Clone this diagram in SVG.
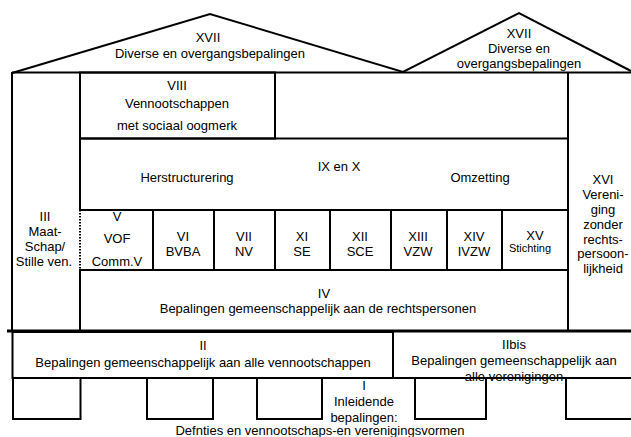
<svg xmlns="http://www.w3.org/2000/svg" width="631" height="437" viewBox="0 0 631 437">
<style>
.l{fill:none;stroke:#000;stroke-width:2}
.t{font-family:"Liberation Sans",Arial,sans-serif;font-size:13px;fill:#000;text-anchor:middle}
.s{font-size:11px}
</style>
<rect width="631" height="437" fill="#fff"/>
<g id="roof">
<polyline class="l" points="12,73 210,14 403,72 519,13 631,71"/>
<line class="l" x1="12" y1="72.5" x2="631" y2="72.5"/>
<text class="t" x="208" y="42">XVII</text>
<text class="t" x="210" y="58">Diverse en overgangsbepalingen</text>
<text class="t" x="519" y="38">XVII</text>
<text class="t" x="519" y="53">Diverse en</text>
<text class="t" x="519" y="68">overgangsbepalingen</text>
</g>
<g id="walls">
<line class="l" x1="12" y1="72" x2="12" y2="331"/>
<line class="l" x1="568" y1="72" x2="568" y2="331"/>
<line x1="7" y1="331" x2="631" y2="331" stroke="#000" stroke-width="3"/>
</g>
<g id="n3">
<text class="t" x="45" y="220.5">III</text>
<text class="t" x="45" y="236">Maat-</text>
<text class="t" x="45" y="251">Schap/</text>
<text class="t" x="44" y="265.5">Stille ven.</text>
</g>
<g id="n16">
<text class="t" x="603" y="183.5">XVI</text>
<text class="t" x="603" y="199">Vereni-</text>
<text class="t" x="603" y="214">ging</text>
<text class="t" x="603" y="228.5">zonder</text>
<text class="t" x="603" y="243.5">rechts-</text>
<text class="t" x="603" y="257.5">persoon-</text>
<text class="t" x="603" y="272.5">lijkheid</text>
</g>
<g id="n8">
<rect class="l" x="80" y="72.5" width="195" height="66"/>
<text class="t" x="177" y="89.5">VIII</text>
<text class="t" x="177" y="107.5">Vennootschappen</text>
<text class="t" x="177" y="129.5">met sociaal oogmerk</text>
</g>
<g id="n9">
<rect class="l" x="80" y="138.5" width="488" height="71.5"/>
<text class="t" x="339" y="171">IX en X</text>
<text class="t" x="187" y="182">Herstructurering</text>
<text class="t" x="480" y="182">Omzetting</text>
</g>
<g id="n5">
<line x1="80" y1="210" x2="80" y2="270" stroke="#000" stroke-width="2" stroke-dasharray="1.5,1.5"/>
<text class="t" x="117" y="220.5">V</text>
<text class="t" x="117" y="242.5">VOF</text>
<text class="t" x="117" y="265.5">Comm.V</text>
</g>
<g id="cells">
<line class="l" x1="153" y1="210" x2="153" y2="270"/>
<line class="l" x1="214" y1="210" x2="214" y2="270"/>
<line class="l" x1="275" y1="210" x2="275" y2="270"/>
<line class="l" x1="330" y1="210" x2="330" y2="270"/>
<line class="l" x1="391" y1="210" x2="391" y2="270"/>
<line class="l" x1="447" y1="210" x2="447" y2="270"/>
<line class="l" x1="502" y1="210" x2="502" y2="270"/>
</g>
<g id="n6"><text class="t" x="183" y="241">VI</text><text class="t" x="183" y="256">BVBA</text></g>
<g id="n7"><text class="t" x="244" y="241">VII</text><text class="t" x="244" y="256">NV</text></g>
<g id="n11"><text class="t" x="302" y="241">XI</text><text class="t" x="302" y="256">SE</text></g>
<g id="n12"><text class="t" x="360" y="241">XII</text><text class="t" x="360" y="256">SCE</text></g>
<g id="n13"><text class="t" x="418" y="241">XIII</text><text class="t" x="418" y="256">VZW</text></g>
<g id="n14"><text class="t" x="474" y="241">XIV</text><text class="t" x="474" y="256">IVZW</text></g>
<g id="n15"><text class="t" x="535" y="239.5">XV</text><text class="t s" x="530" y="252">Stichting</text></g>
<g id="n4">
<rect class="l" x="80" y="270" width="488" height="61"/>
<text class="t" x="324" y="297.5">IV</text>
<text class="t" x="318" y="312.5">Bepalingen gemeenschappelijk aan de rechtspersonen</text>
</g>
<g id="n2">
<rect class="l" x="12.5" y="332" width="380.5" height="46"/>
<text class="t" x="203" y="349.5">II</text>
<text class="t" x="203" y="366.5">Bepalingen gemeenschappelijk aan alle vennootschappen</text>
</g>
<g id="n2bis">
<polyline class="l" points="393,332 393,378 631,378"/>
<text class="t" x="514" y="348.5">IIbis</text>
<text class="t" x="514" y="364.5">Bepalingen gemeenschappelijk aan</text>
<text class="t" x="514" y="381">alle verenigingen</text>
</g>
<g id="n1">
<rect class="l" x="13" y="378" width="67.5" height="41"/>
<rect class="l" x="147" y="378" width="66" height="41"/>
<rect class="l" x="257" y="378" width="65" height="41"/>
<rect class="l" x="415" y="378" width="71" height="41"/>
<polyline class="l" points="566,378 566,419 631,419"/>
<text class="t" x="364" y="389.5">I</text>
<text class="t" x="364" y="406">Inleidende</text>
<text class="t" x="364" y="421.5">bepalingen:</text>
<text class="t" x="320" y="435">Defnties en vennootschaps-en verenigingsvormen</text>
</g>
</svg>
